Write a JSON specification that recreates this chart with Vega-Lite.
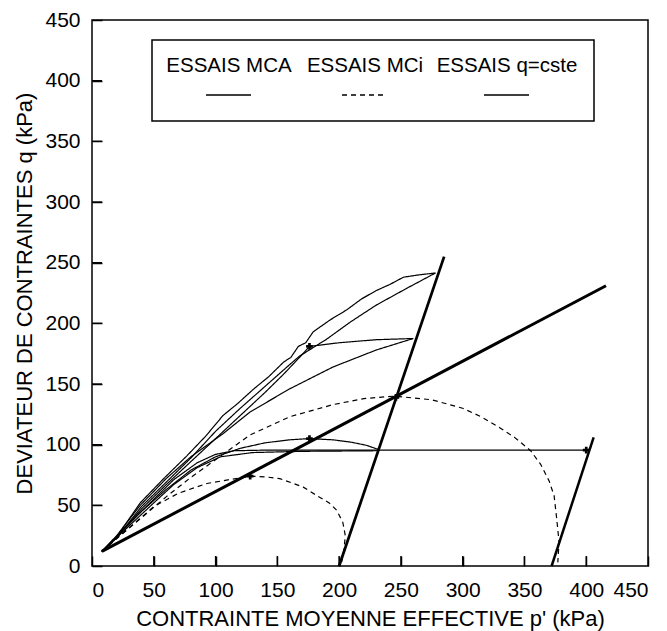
{
  "$schema": "https://vega.github.io/schema/vega-lite/v6.json",
  "width": 556,
  "height": 546,
  "autosize": {"type": "none"},
  "padding": {"left": 92, "top": 20, "right": 19, "bottom": 65},
  "background": "white",
  "config": {
    "font": "Liberation Sans",
    "view": {"stroke": "black", "strokeWidth": 1.5},
    "axis": {
      "grid": false,
      "domain": false,
      "ticks": true,
      "tickOpacity": 1,
      "zindex": 2,
      "offset": -10,
      "tickColor": "#000000",
      "tickWidth": 1.5,
      "tickSize": 10,
      "labelFontSize": 21,
      "labelColor": "black",
      "titleFontSize": 22,
      "titleFontWeight": "normal",
      "titleColor": "black"
    },
    "legend": {
      "orient": "none",
      "legendX": 60,
      "legendY": 20,
      "direction": "horizontal",
      "columns": 3,
      "strokeColor": "black",
      "strokeWidth": 1.5,
      "padding": 16,
      "clipHeight": 20,
      "titleFontSize": 20,
      "titlePadding": 9,
      "symbolType": "stroke",
      "symbolSize": 2025,
      "symbolStrokeWidth": 1.3,
      "symbolOffset": 37,
      "labelFontSize": 20.5,
      "labelColor": "black",
      "labelAlign": "center",
      "labelOffset": -23,
      "columnPadding": 12,
      "labelLimit": 300
    }
  },
  "datasets": {
    "tests": [
      {"serie": "ESSAIS MCA", "test": "A1", "i": 0, "p": 8, "q": 12},
      {"serie": "ESSAIS MCA", "test": "A1", "i": 1, "p": 20, "q": 24},
      {"serie": "ESSAIS MCA", "test": "A1", "i": 2, "p": 39, "q": 52},
      {"serie": "ESSAIS MCA", "test": "A1", "i": 3, "p": 58, "q": 72},
      {"serie": "ESSAIS MCA", "test": "A1", "i": 4, "p": 77, "q": 91},
      {"serie": "ESSAIS MCA", "test": "A1", "i": 5, "p": 92, "q": 107},
      {"serie": "ESSAIS MCA", "test": "A1", "i": 6, "p": 106, "q": 124},
      {"serie": "ESSAIS MCA", "test": "A1", "i": 7, "p": 118, "q": 134},
      {"serie": "ESSAIS MCA", "test": "A1", "i": 8, "p": 131, "q": 146},
      {"serie": "ESSAIS MCA", "test": "A1", "i": 9, "p": 143, "q": 156},
      {"serie": "ESSAIS MCA", "test": "A1", "i": 10, "p": 155, "q": 168},
      {"serie": "ESSAIS MCA", "test": "A1", "i": 11, "p": 161, "q": 172},
      {"serie": "ESSAIS MCA", "test": "A1", "i": 12, "p": 167, "q": 181},
      {"serie": "ESSAIS MCA", "test": "A1", "i": 13, "p": 173, "q": 184},
      {"serie": "ESSAIS MCA", "test": "A1", "i": 14, "p": 179, "q": 193},
      {"serie": "ESSAIS MCA", "test": "A1", "i": 15, "p": 193, "q": 203},
      {"serie": "ESSAIS MCA", "test": "A1", "i": 16, "p": 206, "q": 211},
      {"serie": "ESSAIS MCA", "test": "A1", "i": 17, "p": 218, "q": 220},
      {"serie": "ESSAIS MCA", "test": "A1", "i": 18, "p": 230, "q": 227},
      {"serie": "ESSAIS MCA", "test": "A1", "i": 19, "p": 241, "q": 232},
      {"serie": "ESSAIS MCA", "test": "A1", "i": 20, "p": 252, "q": 238},
      {"serie": "ESSAIS MCA", "test": "A1", "i": 21, "p": 265, "q": 240},
      {"serie": "ESSAIS MCA", "test": "A1", "i": 22, "p": 278, "q": 241.5},

      {"serie": "ESSAIS MCA", "test": "A2", "i": 0, "p": 8, "q": 12},
      {"serie": "ESSAIS MCA", "test": "A2", "i": 1, "p": 20, "q": 23},
      {"serie": "ESSAIS MCA", "test": "A2", "i": 2, "p": 40, "q": 49},
      {"serie": "ESSAIS MCA", "test": "A2", "i": 3, "p": 60, "q": 69},
      {"serie": "ESSAIS MCA", "test": "A2", "i": 4, "p": 80, "q": 89},
      {"serie": "ESSAIS MCA", "test": "A2", "i": 5, "p": 100, "q": 111},
      {"serie": "ESSAIS MCA", "test": "A2", "i": 6, "p": 120, "q": 130},
      {"serie": "ESSAIS MCA", "test": "A2", "i": 7, "p": 140, "q": 148},
      {"serie": "ESSAIS MCA", "test": "A2", "i": 8, "p": 160, "q": 166},
      {"serie": "ESSAIS MCA", "test": "A2", "i": 9, "p": 168, "q": 173},
      {"serie": "ESSAIS MCA", "test": "A2", "i": 10, "p": 190, "q": 187},
      {"serie": "ESSAIS MCA", "test": "A2", "i": 11, "p": 209, "q": 201},
      {"serie": "ESSAIS MCA", "test": "A2", "i": 12, "p": 230, "q": 215},
      {"serie": "ESSAIS MCA", "test": "A2", "i": 13, "p": 255, "q": 229},
      {"serie": "ESSAIS MCA", "test": "A2", "i": 14, "p": 278, "q": 241.5},

      {"serie": "ESSAIS MCA", "test": "A3", "i": 0, "p": 8, "q": 12},
      {"serie": "ESSAIS MCA", "test": "A3", "i": 1, "p": 22, "q": 26},
      {"serie": "ESSAIS MCA", "test": "A3", "i": 2, "p": 40, "q": 47},
      {"serie": "ESSAIS MCA", "test": "A3", "i": 3, "p": 60, "q": 67},
      {"serie": "ESSAIS MCA", "test": "A3", "i": 4, "p": 80, "q": 86},
      {"serie": "ESSAIS MCA", "test": "A3", "i": 5, "p": 100, "q": 105},
      {"serie": "ESSAIS MCA", "test": "A3", "i": 6, "p": 120, "q": 124},
      {"serie": "ESSAIS MCA", "test": "A3", "i": 7, "p": 140, "q": 143},
      {"serie": "ESSAIS MCA", "test": "A3", "i": 8, "p": 155, "q": 158},
      {"serie": "ESSAIS MCA", "test": "A3", "i": 9, "p": 168, "q": 172},
      {"serie": "ESSAIS MCA", "test": "A3", "i": 10, "p": 176, "q": 181},
      {"serie": "ESSAIS MCA", "test": "A3", "i": 11, "p": 200, "q": 184},
      {"serie": "ESSAIS MCA", "test": "A3", "i": 12, "p": 230, "q": 186.5},
      {"serie": "ESSAIS MCA", "test": "A3", "i": 13, "p": 260, "q": 187.5},

      {"serie": "ESSAIS MCA", "test": "A4", "i": 0, "p": 8, "q": 12},
      {"serie": "ESSAIS MCA", "test": "A4", "i": 1, "p": 20, "q": 25},
      {"serie": "ESSAIS MCA", "test": "A4", "i": 2, "p": 39, "q": 50},
      {"serie": "ESSAIS MCA", "test": "A4", "i": 3, "p": 60, "q": 72},
      {"serie": "ESSAIS MCA", "test": "A4", "i": 4, "p": 80, "q": 90},
      {"serie": "ESSAIS MCA", "test": "A4", "i": 5, "p": 106, "q": 109},
      {"serie": "ESSAIS MCA", "test": "A4", "i": 6, "p": 128, "q": 127},
      {"serie": "ESSAIS MCA", "test": "A4", "i": 7, "p": 160, "q": 146},
      {"serie": "ESSAIS MCA", "test": "A4", "i": 8, "p": 195, "q": 164},
      {"serie": "ESSAIS MCA", "test": "A4", "i": 9, "p": 230, "q": 178},
      {"serie": "ESSAIS MCA", "test": "A4", "i": 10, "p": 260, "q": 187.5},

      {"serie": "ESSAIS MCA", "test": "A5", "i": 0, "p": 8, "q": 12},
      {"serie": "ESSAIS MCA", "test": "A5", "i": 1, "p": 20, "q": 24},
      {"serie": "ESSAIS MCA", "test": "A5", "i": 2, "p": 40, "q": 45},
      {"serie": "ESSAIS MCA", "test": "A5", "i": 3, "p": 60, "q": 63},
      {"serie": "ESSAIS MCA", "test": "A5", "i": 4, "p": 80, "q": 79},
      {"serie": "ESSAIS MCA", "test": "A5", "i": 5, "p": 100, "q": 90},
      {"serie": "ESSAIS MCA", "test": "A5", "i": 6, "p": 120, "q": 97},
      {"serie": "ESSAIS MCA", "test": "A5", "i": 7, "p": 140, "q": 101.5},
      {"serie": "ESSAIS MCA", "test": "A5", "i": 8, "p": 160, "q": 104},
      {"serie": "ESSAIS MCA", "test": "A5", "i": 9, "p": 176, "q": 105},
      {"serie": "ESSAIS MCA", "test": "A5", "i": 10, "p": 195, "q": 104},
      {"serie": "ESSAIS MCA", "test": "A5", "i": 11, "p": 210, "q": 102},
      {"serie": "ESSAIS MCA", "test": "A5", "i": 12, "p": 222, "q": 99.5},
      {"serie": "ESSAIS MCA", "test": "A5", "i": 13, "p": 232, "q": 96},

      {"serie": "ESSAIS MCA", "test": "A6", "i": 0, "p": 8, "q": 12},
      {"serie": "ESSAIS MCA", "test": "A6", "i": 1, "p": 30, "q": 33},
      {"serie": "ESSAIS MCA", "test": "A6", "i": 2, "p": 50, "q": 52},
      {"serie": "ESSAIS MCA", "test": "A6", "i": 3, "p": 66, "q": 67},
      {"serie": "ESSAIS MCA", "test": "A6", "i": 4, "p": 85, "q": 81},
      {"serie": "ESSAIS MCA", "test": "A6", "i": 5, "p": 104, "q": 90},
      {"serie": "ESSAIS MCA", "test": "A6", "i": 6, "p": 130, "q": 93.5},
      {"serie": "ESSAIS MCA", "test": "A6", "i": 7, "p": 170, "q": 94.5},
      {"serie": "ESSAIS MCA", "test": "A6", "i": 8, "p": 232, "q": 95},

      {"serie": "ESSAIS q=cste", "test": "Q1", "i": 0, "p": 8, "q": 12},
      {"serie": "ESSAIS q=cste", "test": "Q1", "i": 1, "p": 30, "q": 35},
      {"serie": "ESSAIS q=cste", "test": "Q1", "i": 2, "p": 50, "q": 55},
      {"serie": "ESSAIS q=cste", "test": "Q1", "i": 3, "p": 66, "q": 71},
      {"serie": "ESSAIS q=cste", "test": "Q1", "i": 4, "p": 85, "q": 85},
      {"serie": "ESSAIS q=cste", "test": "Q1", "i": 5, "p": 100, "q": 92},
      {"serie": "ESSAIS q=cste", "test": "Q1", "i": 6, "p": 115, "q": 95},
      {"serie": "ESSAIS q=cste", "test": "Q1", "i": 7, "p": 140, "q": 95.5},
      {"serie": "ESSAIS q=cste", "test": "Q1", "i": 8, "p": 200, "q": 95.5},
      {"serie": "ESSAIS q=cste", "test": "Q1", "i": 9, "p": 300, "q": 95.5},
      {"serie": "ESSAIS q=cste", "test": "Q1", "i": 10, "p": 400, "q": 95.5},

      {"serie": "ESSAIS MCi", "test": "M1", "i": 0, "p": 8, "q": 12},
      {"serie": "ESSAIS MCi", "test": "M1", "i": 1, "p": 25, "q": 27},
      {"serie": "ESSAIS MCi", "test": "M1", "i": 2, "p": 45, "q": 44},
      {"serie": "ESSAIS MCi", "test": "M1", "i": 3, "p": 60, "q": 57},
      {"serie": "ESSAIS MCi", "test": "M1", "i": 4, "p": 80, "q": 73},
      {"serie": "ESSAIS MCi", "test": "M1", "i": 5, "p": 106, "q": 92},
      {"serie": "ESSAIS MCi", "test": "M1", "i": 6, "p": 128, "q": 108},
      {"serie": "ESSAIS MCi", "test": "M1", "i": 7, "p": 160, "q": 123},
      {"serie": "ESSAIS MCi", "test": "M1", "i": 8, "p": 195, "q": 133},
      {"serie": "ESSAIS MCi", "test": "M1", "i": 9, "p": 220, "q": 138},
      {"serie": "ESSAIS MCi", "test": "M1", "i": 10, "p": 245, "q": 140},
      {"serie": "ESSAIS MCi", "test": "M1", "i": 11, "p": 275, "q": 137},
      {"serie": "ESSAIS MCi", "test": "M1", "i": 12, "p": 300, "q": 130},
      {"serie": "ESSAIS MCi", "test": "M1", "i": 13, "p": 315, "q": 123},
      {"serie": "ESSAIS MCi", "test": "M1", "i": 14, "p": 330, "q": 114},
      {"serie": "ESSAIS MCi", "test": "M1", "i": 15, "p": 342, "q": 106},
      {"serie": "ESSAIS MCi", "test": "M1", "i": 16, "p": 355, "q": 95},
      {"serie": "ESSAIS MCi", "test": "M1", "i": 17, "p": 363, "q": 84},
      {"serie": "ESSAIS MCi", "test": "M1", "i": 18, "p": 370, "q": 70},
      {"serie": "ESSAIS MCi", "test": "M1", "i": 19, "p": 374, "q": 58},
      {"serie": "ESSAIS MCi", "test": "M1", "i": 20, "p": 376, "q": 40},
      {"serie": "ESSAIS MCi", "test": "M1", "i": 21, "p": 378, "q": 20},
      {"serie": "ESSAIS MCi", "test": "M1", "i": 22, "p": 377, "q": 3},

      {"serie": "ESSAIS MCi", "test": "M2", "i": 0, "p": 8, "q": 12},
      {"serie": "ESSAIS MCi", "test": "M2", "i": 1, "p": 25, "q": 27},
      {"serie": "ESSAIS MCi", "test": "M2", "i": 2, "p": 50, "q": 49},
      {"serie": "ESSAIS MCi", "test": "M2", "i": 3, "p": 70, "q": 60},
      {"serie": "ESSAIS MCi", "test": "M2", "i": 4, "p": 93, "q": 68},
      {"serie": "ESSAIS MCi", "test": "M2", "i": 5, "p": 110, "q": 71},
      {"serie": "ESSAIS MCi", "test": "M2", "i": 6, "p": 128, "q": 74},
      {"serie": "ESSAIS MCi", "test": "M2", "i": 7, "p": 140, "q": 73.5},
      {"serie": "ESSAIS MCi", "test": "M2", "i": 8, "p": 152, "q": 72},
      {"serie": "ESSAIS MCi", "test": "M2", "i": 9, "p": 163, "q": 68},
      {"serie": "ESSAIS MCi", "test": "M2", "i": 10, "p": 171, "q": 65},
      {"serie": "ESSAIS MCi", "test": "M2", "i": 11, "p": 182, "q": 58},
      {"serie": "ESSAIS MCi", "test": "M2", "i": 12, "p": 192, "q": 52},
      {"serie": "ESSAIS MCi", "test": "M2", "i": 13, "p": 198, "q": 46},
      {"serie": "ESSAIS MCi", "test": "M2", "i": 14, "p": 203, "q": 36},
      {"serie": "ESSAIS MCi", "test": "M2", "i": 15, "p": 205, "q": 25},
      {"serie": "ESSAIS MCi", "test": "M2", "i": 16, "p": 204, "q": 14},
      {"serie": "ESSAIS MCi", "test": "M2", "i": 17, "p": 202, "q": 3}
    ],
    "refs": [
      {"line": "CSL", "i": 0, "p": 8, "q": 12},
      {"line": "CSL", "i": 1, "p": 416, "q": 231},
      {"line": "D200", "i": 0, "p": 200, "q": 0},
      {"line": "D200", "i": 1, "p": 285, "q": 255},
      {"line": "D372", "i": 0, "p": 372, "q": 0},
      {"line": "D372", "i": 1, "p": 406, "q": 106}
    ],
    "stars": [
      {"p": 128, "q": 74},
      {"p": 176, "q": 105},
      {"p": 246, "q": 139},
      {"p": 176, "q": 181},
      {"p": 400, "q": 95.5}
    ],
    "ticks": [
      {"v": 50}, {"v": 100}, {"v": 150}, {"v": 200}, {"v": 250},
      {"v": 300}, {"v": 350}, {"v": 400}
    ]
  },
  "layer": [
    {
      "data": {"name": "tests"},
      "mark": {"type": "line", "strokeWidth": 1.2},
      "encoding": {
        "x": {
          "field": "p", "type": "quantitative",
          "scale": {"domain": [0, 450], "nice": false},
          "axis": {"values": [0, 50, 100, 150, 200, 250, 300, 350, 400, 450], "title": "CONTRAINTE MOYENNE EFFECTIVE p' (kPa)", "labelPadding": 13, "titlePadding": 8}
        },
        "y": {
          "field": "q", "type": "quantitative",
          "scale": {"domain": [0, 450], "nice": false},
          "axis": {"values": [0, 50, 100, 150, 200, 250, 300, 350, 400, 450], "title": "DEVIATEUR DE CONTRAINTES q (kPa)", "labelPadding": 12, "titlePadding": 8}
        },
        "detail": {"field": "test"},
        "order": {"field": "i", "type": "quantitative"},
        "color": {
          "field": "serie", "type": "nominal",
          "scale": {"domain": ["ESSAIS MCA", "ESSAIS MCi", "ESSAIS q=cste"], "range": ["black", "black", "black"]},
          "legend": {"title": " ", "encode": {"labels": {"update": {"dy": {"value": -29}}}}}
        },
        "strokeDash": {
          "field": "serie", "type": "nominal",
          "scale": {"domain": ["ESSAIS MCA", "ESSAIS MCi", "ESSAIS q=cste"], "range": [[1, 0], [5, 4], [1, 0]]},
          "legend": null
        }
      }
    },
    {
      "data": {"name": "refs"},
      "mark": {"type": "line", "color": "black"},
      "encoding": {
        "x": {"field": "p", "type": "quantitative"},
        "y": {"field": "q", "type": "quantitative"},
        "detail": {"field": "line"},
        "order": {"field": "i", "type": "quantitative"},
        "strokeWidth": {
          "field": "line", "type": "nominal",
          "scale": {"domain": ["CSL", "D200", "D372"], "range": [3, 2.5, 1.2]},
          "legend": null
        }
      }
    },
    {
      "data": {"name": "stars"},
      "mark": {"type": "point", "shape": "cross", "filled": true, "color": "black", "size": 45, "opacity": 1},
      "encoding": {
        "x": {"field": "p", "type": "quantitative"},
        "y": {"field": "q", "type": "quantitative"}
      }
    },
    {
      "data": {"name": "ticks"},
      "mark": {"type": "tick", "orient": "vertical", "size": 20, "thickness": 1.3, "color": "black", "opacity": 1, "clip": true},
      "encoding": {
        "x": {"field": "v", "type": "quantitative"},
        "y": {"datum": 0, "type": "quantitative"}
      }
    },
    {
      "data": {"name": "ticks"},
      "mark": {"type": "tick", "orient": "horizontal", "size": 20, "thickness": 1.3, "color": "black", "opacity": 1, "clip": true},
      "encoding": {
        "x": {"datum": 0, "type": "quantitative"},
        "y": {"field": "v", "type": "quantitative"}
      }
    }
  ]
}
